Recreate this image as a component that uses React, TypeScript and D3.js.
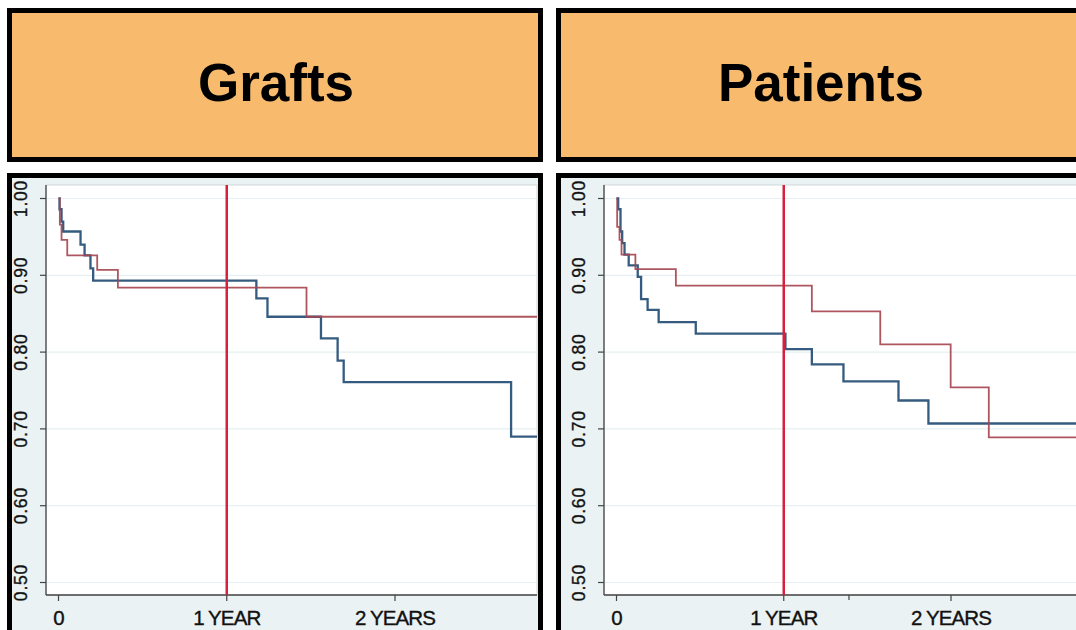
import React from "react";
import * as d3 from "d3";

// ---- data (time in years, survival probability) ----
const panelTitles = ["Grafts", "Patients"];

const graftsRedTimes = [0, 0.008, 0.018, 0.052, 0.23, 0.353, 1.474, 2.86];
const graftsRedSurv = [1.0, 0.966, 0.946, 0.926, 0.907, 0.884, 0.846, 0.846];

const graftsBlueTimes = [0, 0.006, 0.018, 0.028, 0.131, 0.155, 0.19, 0.206, 1.176, 1.242, 1.56, 1.659, 1.695, 2.69, 2.86];
const graftsBlueSurv = [1.0, 0.986, 0.97, 0.957, 0.94, 0.926, 0.909, 0.893, 0.87, 0.846, 0.818, 0.789, 0.761, 0.69, 0.69];

const patientsRedTimes = [0, 0.004, 0.018, 0.03, 0.113, 0.355, 1.168, 1.577, 1.998, 2.226, 2.9];
const patientsRedSurv = [1.0, 0.963, 0.946, 0.927, 0.908, 0.8865, 0.853, 0.81, 0.754, 0.689, 0.689];

const patientsBlueTimes = [0, 0.01, 0.024, 0.034, 0.048, 0.073, 0.127, 0.147, 0.186, 0.252, 0.474, 1.01, 1.168, 1.357, 1.686, 1.865, 2.9];
const patientsBlueSurv = [1.0, 0.986, 0.957, 0.942, 0.927, 0.913, 0.898, 0.869, 0.855, 0.839, 0.824, 0.804, 0.784, 0.762, 0.737, 0.707, 0.707];

const yTicks = [0.5, 0.6, 0.7, 0.8, 0.9, 1.0];
const xTickValues = [0, 1, 2];
const xTickLabels = ["0", "1 YEAR", "2 YEARS"];
const markerYear = 1;

// ---- styling / layout ----
const FONT = "'Liberation Sans', Arial, Helvetica, sans-serif";
const HEADER_FILL = "#F8BB6D";
const FRAME_FILL = "#EAF2F3";
const BLUE = "#1F4A72";
const RED = "#A5444E";
const VLINE = "#D6203E";

type Panel = {
  title: string;
  boxX: number;
  boxW: number;
  titleX: number;
  axisX: number;
  plotRight: number;
  x0: number;
  x2: number;
  ylabelX: number;
  minorTicks: number[];
  series: { times: number[]; surv: number[]; color: string; width: number }[];
};

const panels: Panel[] = [
  {
    title: panelTitles[0],
    boxX: 7,
    boxW: 536,
    titleX: 276,
    axisX: 46,
    plotRight: 537,
    x0: 58.5,
    x2: 395,
    ylabelX: 27,
    minorTicks: [],
    series: [
      { times: graftsBlueTimes, surv: graftsBlueSurv, color: BLUE, width: 2.3 },
      { times: graftsRedTimes, surv: graftsRedSurv, color: RED, width: 1.8 },
    ],
  },
  {
    title: panelTitles[1],
    boxX: 556,
    boxW: 540,
    titleX: 821,
    axisX: 604,
    plotRight: 1090,
    x0: 616.5,
    x2: 951,
    ylabelX: 585,
    minorTicks: [1.39],
    series: [
      { times: patientsBlueTimes, surv: patientsBlueSurv, color: BLUE, width: 2.3 },
      { times: patientsRedTimes, surv: patientsRedSurv, color: RED, width: 1.8 },
    ],
  },
];

const plotTop = 185;
const plotBottom = 595;
const y = d3.scaleLinear().domain([0.5, 1.0]).range([582.5, 198.5]);

function PanelView({ p }: { p: Panel }) {
  const x = d3.scaleLinear().domain([0, 2]).range([p.x0, p.x2]);
  const line = d3
    .line<[number, number]>()
    .x((d) => x(d[0]))
    .y((d) => y(d[1]))
    .curve(d3.curveStepAfter);
  const clipId = "clip-" + p.title;
  return (
    <g>
      {/* header */}
      <rect x={p.boxX + 2.5} y={10.5} width={p.boxW - 5} height={149} fill={HEADER_FILL} stroke="#000" strokeWidth={5} />
      <text x={p.titleX} y={101} textAnchor="middle" fontFamily={FONT} fontWeight="bold" fontSize={53} fill="#000">
        {p.title}
      </text>
      {/* lower panel frame */}
      <rect x={p.boxX + 2.5} y={175.5} width={p.boxW - 5} height={520} fill={FRAME_FILL} stroke="#000" strokeWidth={5} />
      <rect x={p.axisX} y={plotTop} width={p.plotRight - p.axisX} height={plotBottom - plotTop} fill="#fff" stroke="#C8CFD2" strokeWidth={0.8} />
      <clipPath id={clipId}>
        <rect x={p.axisX} y={plotTop} width={p.plotRight - p.axisX} height={plotBottom - plotTop} />
      </clipPath>
      {/* gridlines */}
      {yTicks.map((t) => (
        <line key={"g" + t} x1={p.axisX} x2={p.plotRight} y1={y(t)} y2={y(t)} stroke="#E6EFF1" strokeWidth={1.2} />
      ))}
      {/* axes */}
      <line x1={p.axisX} x2={p.axisX} y1={plotTop} y2={plotBottom} stroke="#444" strokeWidth={1.3} />
      <line x1={p.axisX} x2={p.plotRight} y1={plotBottom} y2={plotBottom} stroke="#444" strokeWidth={1.3} />
      {yTicks.map((t) => (
        <g key={"y" + t}>
          <line x1={p.axisX - 6} x2={p.axisX} y1={y(t)} y2={y(t)} stroke="#444" strokeWidth={1.2} />
          <text
            transform={`translate(${p.ylabelX},${y(t)}) rotate(-90)`}
            textAnchor="middle"
            fontFamily={FONT}
            fontSize={17.5}
            letterSpacing={0.8}
            fill="#111"
            stroke="#111"
            strokeWidth={0.35}
          >
            {t.toFixed(2)}
          </text>
        </g>
      ))}
      {xTickValues.map((t, i) => (
        <g key={"x" + t}>
          <line x1={x(t)} x2={x(t)} y1={plotBottom} y2={plotBottom + 6} stroke="#444" strokeWidth={1.2} />
          <text
            x={x(t)}
            y={625}
            textAnchor="middle"
            fontFamily={FONT}
            fontSize={20.5}
            letterSpacing={-0.9}
            fill="#111"
            stroke="#111"
            strokeWidth={0.35}
          >
            {xTickLabels[i]}
          </text>
        </g>
      ))}
      {p.minorTicks.map((t) => (
        <line key={"m" + t} x1={x(t)} x2={x(t)} y1={plotBottom} y2={plotBottom + 5} stroke="#444" strokeWidth={1.2} />
      ))}
      {/* curves */}
      <g clipPath={`url(#${clipId})`}>
        {p.series.map((s, i) => (
          <path
            key={i}
            d={line(s.times.map((t, j) => [t, s.surv[j]] as [number, number])) || ""}
            fill="none"
            stroke={s.color}
            strokeWidth={s.width}
            strokeOpacity={0.9}
          />
        ))}
      </g>
      {/* one-year marker */}
      <line x1={x(markerYear)} x2={x(markerYear)} y1={plotTop} y2={plotBottom} stroke={VLINE} strokeWidth={2.5} />
    </g>
  );
}

export default function App() {
  return (
    <svg
      width={1076}
      height={630}
      style={{ position: "absolute", left: 0, top: 0, display: "block", background: "#fff" }}
    >
      <rect x={0} y={0} width={1076} height={630} fill="#fff" />
      {panels.map((p) => (
        <PanelView key={p.title} p={p} />
      ))}
    </svg>
  );
}
